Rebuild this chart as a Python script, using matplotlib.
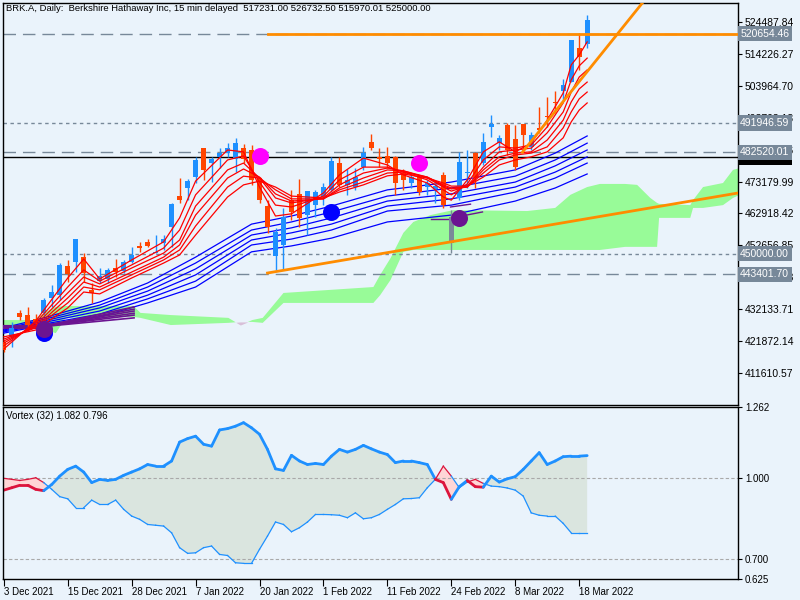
import numpy as np
import matplotlib.pyplot as plt

# ---- data (BRK.A daily) ----
date_ticks = [0, 8, 16, 24, 32, 40, 48, 56, 64, 72]
date_labels = ["3 Dec 2021", "15 Dec 2021", "28 Dec 2021", "7 Jan 2022", "20 Jan 2022",
               "1 Feb 2022", "11 Feb 2022", "24 Feb 2022", "8 Mar 2022", "18 Mar 2022"]

opens = [421650, 423250, 430960, 430320, 429030, 430960, 435780, 436740, 446050, 447330,
         448940, 438340, 441230, 441880, 445410, 444440, 447330, 452470, 453750, 450220,
         453430, 458570, 468530, 471090, 474630, 483940, 479120, 481050, 482330, 480410,
         483940, 483300, 474300, 465310, 449260, 452790, 467240, 469170, 462420, 465630,
         468200, 470450, 479120, 472060, 471410, 477840, 485860, 481050, 481370, 481050,
         475910, 472700, 474630, 471410, 470770, 475270, 453430, 467880, 475910, 482330,
         479120, 490680, 485540, 491320, 486830, 491640, 484260, 490360, 494210, 498710,
         502240, 505130, 516040, 517231]
highs = [422300, 428070, 431920, 432890, 430640, 435780, 439950, 447010, 447980, 454720,
         450220, 440590, 445410, 445410, 448300, 448000, 452150, 453750, 454720, 456000,
         456000, 466280, 474300, 473980, 481050, 483940, 481050, 483940, 485540, 487150,
         485220, 484900, 474630, 467240, 458250, 464670, 470450, 473980, 470130, 470450,
         472700, 481050, 481050, 477200, 477520, 484260, 488430, 483940, 484260, 481370,
         477200, 475270, 474950, 473660, 473660, 476230, 464030, 482650, 483300, 482650,
         488750, 494530, 488110, 491970, 491320, 491640, 489080, 497100, 500310, 502240,
         506090, 518610, 520860, 526732.5]
lows = [418500, 420040, 428710, 425500, 427110, 430320, 432890, 435130, 440910, 444120,
        440910, 434170, 440590, 440590, 442520, 443800, 447010, 450540, 452150, 450220,
        451190, 452150, 466280, 467240, 472700, 473660, 473020, 477520, 481050, 476230,
        479120, 472060, 466280, 456640, 444770, 444770, 460820, 458570, 456000, 461780,
        465630, 469810, 471410, 468850, 470450, 476870, 483300, 477840, 477520, 468850,
        470450, 471090, 468850, 468850, 466280, 464670, 450220, 467240, 471090, 471090,
        478480, 487470, 483300, 481690, 476870, 482650, 483300, 488750, 490680, 495180,
        499350, 505130, 508980, 515970.01]
closes = [419080, 426140, 429670, 427110, 428070, 435130, 437700, 446370, 443480, 454720,
          443800, 437380, 442840, 444770, 444120, 447330, 449580, 451830, 452470, 450540,
          454720, 465960, 467240, 473340, 480090, 476870, 480410, 482330, 483940, 485540,
          480410, 473660, 467240, 458570, 456970, 461780, 463390, 461460, 470130, 469810,
          471410, 479760, 472060, 473660, 474630, 482330, 483940, 480410, 479120, 472700,
          473660, 474630, 469810, 472700, 471740, 465630, 461780, 479440, 476230, 474300,
          485860, 491640, 487150, 483300, 477840, 488110, 488110, 489720, 493890, 498390,
          504170, 518610, 513160, 525000]
grey_bar = 56

# short-term guppy averages (thousands), read at these bars
fast_x = [0, 4, 8, 10, 12, 16, 20, 22, 24, 28, 30, 32, 34, 36, 40, 42, 45, 48, 50, 53,
          55, 56, 58, 60, 62, 64, 66, 68, 70, 71, 72, 73]
ema3 = [419.4, 428.4, 442.2, 448.3, 441.9, 448.0, 453.8, 461.5, 473.3, 483.3, 482.7, 471.4,
        462.1, 462.8, 469.5, 475.3, 480.7, 478.5, 475.3, 472.7, 468.2, 467.2, 473.7, 482.7,
        485.9, 482.7, 485.5, 492.9, 501.6, 510.6, 513.8, 518.0]
ema5 = [420.4, 427.8, 439.3, 444.8, 441.2, 446.4, 451.8, 457.6, 468.9, 480.1, 481.4, 473.0,
        465.6, 465.0, 468.5, 473.7, 477.8, 477.8, 476.2, 473.7, 470.5, 468.9, 472.4, 480.1,
        484.3, 483.9, 484.9, 490.7, 498.4, 505.8, 510.3, 512.8]
ema8 = [421.3, 427.1, 437.4, 442.5, 440.3, 445.4, 450.2, 454.4, 465.3, 476.9, 479.1, 474.3,
        467.9, 466.3, 467.9, 472.1, 475.9, 477.5, 476.6, 474.3, 471.4, 470.1, 471.7, 477.8,
        482.7, 483.3, 483.9, 488.8, 495.5, 501.9, 506.7, 509.0]
ema10 = [422.0, 426.5, 435.8, 440.9, 439.3, 444.1, 448.9, 452.8, 462.4, 474.3, 477.2, 474.6,
         469.2, 466.9, 467.6, 471.1, 474.3, 476.9, 476.6, 474.6, 471.7, 470.8, 471.4, 476.9,
         481.1, 482.3, 482.7, 486.5, 492.9, 498.7, 502.9, 505.1]
ema12 = [422.6, 426.2, 434.2, 439.3, 438.4, 443.2, 448.0, 451.2, 458.9, 471.4, 474.9, 474.3,
         470.5, 467.6, 467.6, 470.5, 473.0, 475.9, 476.2, 474.6, 472.1, 471.1, 471.4, 475.9,
         480.1, 481.7, 482.3, 484.3, 490.4, 495.5, 499.7, 501.9]
ema15 = [423.3, 425.5, 432.6, 437.7, 437.1, 442.2, 447.0, 449.6, 456.0, 468.2, 472.1, 473.3,
         471.4, 468.5, 467.9, 469.8, 472.1, 475.0, 475.6, 474.3, 472.7, 471.7, 471.7, 474.6,
         478.5, 480.1, 481.1, 482.7, 487.2, 492.3, 496.1, 498.4]

# long-term guppy averages (thousands)
slow_x = [0, 5, 12, 18, 24, 31, 36, 41, 48, 56, 64, 69, 73]
ema30 = [426.2, 429.4, 434.5, 440.6, 448.9, 459.5, 462.1, 465.3, 470.5, 473.0, 476.9, 482.3, 487.8]
ema35 = [425.8, 428.9, 433.5, 439.3, 447.0, 457.6, 460.2, 463.4, 468.5, 471.1, 474.9, 480.1, 485.5]
ema40 = [425.5, 428.4, 432.6, 438.0, 445.1, 456.0, 458.3, 461.5, 466.9, 469.2, 473.0, 478.2, 483.3]
ema45 = [425.2, 427.9, 431.6, 436.7, 443.2, 454.4, 456.7, 459.5, 465.3, 467.6, 471.4, 476.2, 481.1]
ema50 = [424.9, 427.4, 430.6, 435.5, 441.2, 452.8, 454.7, 457.6, 463.7, 465.6, 469.8, 474.3, 479.1]
ema60 = [424.5, 427.1, 429.7, 434.2, 439.3, 450.6, 452.5, 455.0, 460.2, 462.4, 466.9, 471.1, 475.6]

# ichimoku cloud (thousands)
cloud_x = [-0.4, 3.75, 5.25, 6.5, 7.75, 16.25, 17.1, 20.9, 28.1, 29.6, 31.1, 32.4, 35,
           46.25, 47.1, 48.4, 50, 51.25, 53.4, 56.25, 65.5, 69, 70.9, 73, 74.6, 77.75,
           79.25, 80.9, 81.75, 82, 85.9, 86.25, 87.5, 90, 91.25, 92.1]
span_a = [428.7, 428.7, 431.3, 432.9, 433.2, 433.2, 431.0, 430.3, 429.4, 427.1, 428.7, 429.4,
          437.4, 439.3, 443.2, 448.6, 456.7, 460.2, 462.4, 464.0, 463.7, 464.7, 468.9, 471.4,
          472.4, 472.4, 472.1, 467.9, 466.3, 466.0, 465.6, 467.2, 471.4, 472.7, 476.9, 477.5]
span_b = [426.2, 426.2, 425.5, 424.5, 429.4, 429.7, 429.4, 427.1, 427.8, 428.1, 428.1, 427.8,
          434.2, 434.2, 436.7, 441.6, 450.6, 451.2, 451.2, 451.2, 451.2, 451.2, 451.2, 451.2,
          451.2, 452.2, 452.2, 452.2, 452.2, 461.5, 461.5, 464.7, 464.7, 465.6, 467.9, 468.9]

# horizontal levels
level_dash = [520654.46, 482520.01, 443401.70]
level_dot = [491946.59, 450000.00]
level_black = 481000.00
resistance = 520654.46
resistance_from = 33

# trend lines (bar, price)
trend_low_x = [33, 91.9]
trend_low_y = [443800, 469500]
trend_up_x = [64.9, 80.0]
trend_up_y = [482600, 530800]

# purple marks (thousands)
purple_flat_x = [-0.4, 4.5]
purple_flat_y = [426.5, 426.5]
purple_fan_x = [4.5, 16.3]
purple_fan_end = [432.9, 432.2, 431.6, 430.9, 430.3, 429.4]
purple_feb_x = [[53.4, 57.1], [55.9, 58.4], [57.9, 59.9]]
purple_feb_y = [[461.2, 461.2], [465.0, 465.9], [462.4, 463.4]]

# signal dots (bar, thousands)
magenta_x, magenta_y = [32, 52], [481.4, 479.0]
blue_x, blue_y = [41, 5], [463.3, 424.5]
purple_x, purple_y = [57, 5], [461.5, 425.8]

# vortex (32)
vi_plus = [0.954, 0.963, 0.972, 0.972, 0.957, 0.952, 0.975, 1.006, 1.031, 1.043,
           1.021, 0.982, 0.994, 0.990, 0.994, 1.009, 1.021, 1.033, 1.049, 1.043,
           1.043, 1.062, 1.132, 1.145, 1.154, 1.124, 1.117, 1.177, 1.182, 1.191,
           1.204, 1.185, 1.161, 1.105, 1.033, 1.027, 1.083, 1.062, 1.049, 1.053,
           1.049, 1.080, 1.105, 1.095, 1.105, 1.120, 1.107, 1.095, 1.086, 1.056,
           1.062, 1.062, 1.056, 1.049, 0.994, 0.982, 0.920, 0.967, 0.990, 0.967,
           0.965, 1.006, 0.984, 0.996, 1.004, 1.031, 1.062, 1.093, 1.049, 1.062,
           1.078, 1.080, 1.080, 1.082]
vi_minus = [0.998, 0.994, 0.990, 0.994, 1.000, 0.982, 0.957, 0.930, 0.922, 0.889,
            0.889, 0.917, 0.901, 0.901, 0.917, 0.883, 0.858, 0.846, 0.827, 0.824,
            0.821, 0.796, 0.741, 0.720, 0.722, 0.741, 0.747, 0.716, 0.712, 0.685,
            0.683, 0.683, 0.735, 0.784, 0.836, 0.827, 0.800, 0.815, 0.836, 0.864,
            0.864, 0.863, 0.861, 0.852, 0.870, 0.848, 0.852, 0.864, 0.883, 0.901,
            0.922, 0.923, 0.926, 0.963, 0.994, 1.043, 1.006, 0.963, 0.984, 0.994,
            0.979, 0.969, 0.967, 0.962, 0.954, 0.932, 0.870, 0.861, 0.858, 0.858,
            0.831, 0.796, 0.796, 0.796]

main_ticks = [524487.84, 514226.27, 503964.70, 493703.13, 483441.56, 473179.99,
              462918.42, 452656.85, 442395.28, 432133.71, 421872.14, 411610.57]
vortex_ticks = [1.262, 1.000, 0.700, 0.625]

title = ("BRK.A, Daily:  Berkshire Hathaway Inc, 15 min delayed  "
         "517231.00 526732.50 515970.01 525000.00")

# ---- style ----
bg = "#EAF3FB"
up_col, dn_col = "#1E90FF", "#FF4500"
lab_col = "#778899"
purple = "#6B1491"
plt.rcParams["font.family"] = ["Liberation Sans", "DejaVu Sans"]
plt.rcParams["font.size"] = 7

fig = plt.figure(figsize=(8, 6), dpi=100, facecolor=bg)
ax = fig.add_axes([3 / 800, 1 - 405 / 600, 735 / 800, 402 / 600], facecolor=bg)
ax2 = fig.add_axes([3 / 800, 1 - 579 / 600, 735 / 800, 172 / 600], facecolor=bg)

n = len(closes)
x = np.arange(n)
o, h, l, c = map(np.array, (opens, highs, lows, closes))

# cloud
cx = np.array(cloud_x)
sa = np.array(span_a) * 1000
sb = np.array(span_b) * 1000
ax.fill_between(cx, sa, sb, where=sa >= sb, interpolate=True, color="#98FB98", lw=0, zorder=1)
ax.fill_between(cx, sa, sb, where=sa < sb, interpolate=True, color="#D8BFD8", lw=0, zorder=1)

# levels
for lv in level_dash:
    ax.axhline(lv, color=lab_col, lw=1, dashes=(9, 5), zorder=2)
for lv in level_dot:
    ax.axhline(lv, color=lab_col, lw=1, dashes=(2.5, 2.5), zorder=2)
ax.axhline(level_black, color="black", lw=1, zorder=2)
ax.plot([resistance_from, 92], [resistance, resistance], color="#FF8C00", lw=2, zorder=6)

# guppy lines
for vals in (ema30, ema35, ema40, ema45, ema50, ema60):
    ax.plot(slow_x, np.array(vals) * 1000, color="#0000FF", lw=0.9, zorder=3)
for vals in (ema3, ema5, ema8, ema10, ema12, ema15):
    ax.plot(fast_x, np.array(vals) * 1000, color="#FF0000", lw=0.9, zorder=5)

# purple marks
ax.plot(purple_flat_x, np.array(purple_flat_y) * 1000, color=purple, lw=3, zorder=4)
for end in purple_fan_end:
    ax.plot(purple_fan_x, np.array([purple_flat_y[1], end]) * 1000, color=purple, lw=1.2, zorder=4)
for px, py in zip(purple_feb_x, purple_feb_y):
    ax.plot(px, np.array(py) * 1000, color=purple, lw=1, zorder=4)

# candles
for i in range(n):
    col = up_col if c[i] >= o[i] else dn_col
    if i == grey_bar:
        col = "#7A8A99"
    ax.vlines(x[i], l[i], h[i], color=col, lw=1, zorder=4)
    lo, hi = min(o[i], c[i]), max(o[i], c[i])
    ax.bar(x[i], max(hi - lo, 350), bottom=lo, width=0.62, color=col, lw=0, zorder=4)

# trend lines
ax.plot(trend_low_x, trend_low_y, color="#FF8C00", lw=2, zorder=6)
ax.plot(trend_up_x, trend_up_y, color="#FF8C00", lw=2, zorder=6)

# signal dots
ax.scatter(magenta_x, np.array(magenta_y) * 1000, s=150, color="#FF00FF", lw=0, zorder=7)
ax.scatter(blue_x, np.array(blue_y) * 1000, s=150, color="#0000FF", lw=0, zorder=7)
ax.scatter(purple_x, np.array(purple_y) * 1000, s=150, color=purple, lw=0, zorder=7)

ax.set_xlim(-0.1, 91.875)
ax.set_ylim(401426, 530492)
ax.set_xticks([])
ax.yaxis.tick_right()
ax.set_yticks(main_ticks)
ax.set_yticklabels([f"{t:.2f}" for t in main_ticks])
ax.tick_params(axis="y", length=3, width=0.8, pad=2, labelsize=7.5)

# price labels on the right
ytr = ax.get_yaxis_transform()
ax.text(1.003, level_black, f"{level_black:.2f}", transform=ytr, color="white", va="center",
        fontsize=7.5, bbox=dict(boxstyle="square,pad=0.25", fc="black", ec="none"), zorder=8,
        clip_on=False)
for lv in level_dash + level_dot:
    ax.text(1.003, lv, f"{lv:.2f}", transform=ytr, color="white", va="center", fontsize=7.5,
            bbox=dict(boxstyle="square,pad=0.25", fc=lab_col, ec="none"), zorder=9, clip_on=False)

fig.text(6 / 800, 1 - 4 / 600, title, va="top", ha="left", fontsize=6.8)

# ---- vortex panel ----
vp, vm = np.array(vi_plus), np.array(vi_minus)
ax2.fill_between(x, vp, vm, where=vp >= vm, interpolate=True, color="#DAE5DF", lw=0)
ax2.fill_between(x, vp, vm, where=vp < vm, interpolate=True, color="#FFD6D6", lw=0)
ax2.axhline(1.0, color="#A9A9A9", lw=0.8, dashes=(3, 2))
ax2.axhline(0.7, color="#A9A9A9", lw=0.8, dashes=(3, 2))
for i in range(n - 1):
    col = "#1E90FF" if vp[i + 1] >= vm[i + 1] else "#DC143C"
    ax2.plot(x[i:i + 2], vp[i:i + 2], color=col, lw=2, solid_capstyle="round")
    ax2.plot(x[i:i + 2], vm[i:i + 2], color=col, lw=0.9)
ax2.text(0.004, 0.975, f"Vortex (32) {vi_plus[-1]:.3f} {vi_minus[-1]:.3f}",
         transform=ax2.transAxes, va="top", fontsize=7)

ax2.set_xlim(-0.1, 91.875)
ax2.set_ylim(0.625, 1.262)
ax2.yaxis.tick_right()
ax2.set_yticks(vortex_ticks)
ax2.set_yticklabels([f"{t:.3f}" for t in vortex_ticks])
ax2.tick_params(axis="y", length=3, width=0.8, pad=2, labelsize=7)
ax2.set_xticks(date_ticks)
ax2.set_xticklabels(date_labels, ha="left")
ax2.tick_params(axis="x", length=5, width=0.8, pad=1, labelsize=7)

for a in (ax, ax2):
    for s in a.spines.values():
        s.set_color("black")
        s.set_linewidth(1)

fig.savefig("out.png", dpi=100, facecolor=bg)
